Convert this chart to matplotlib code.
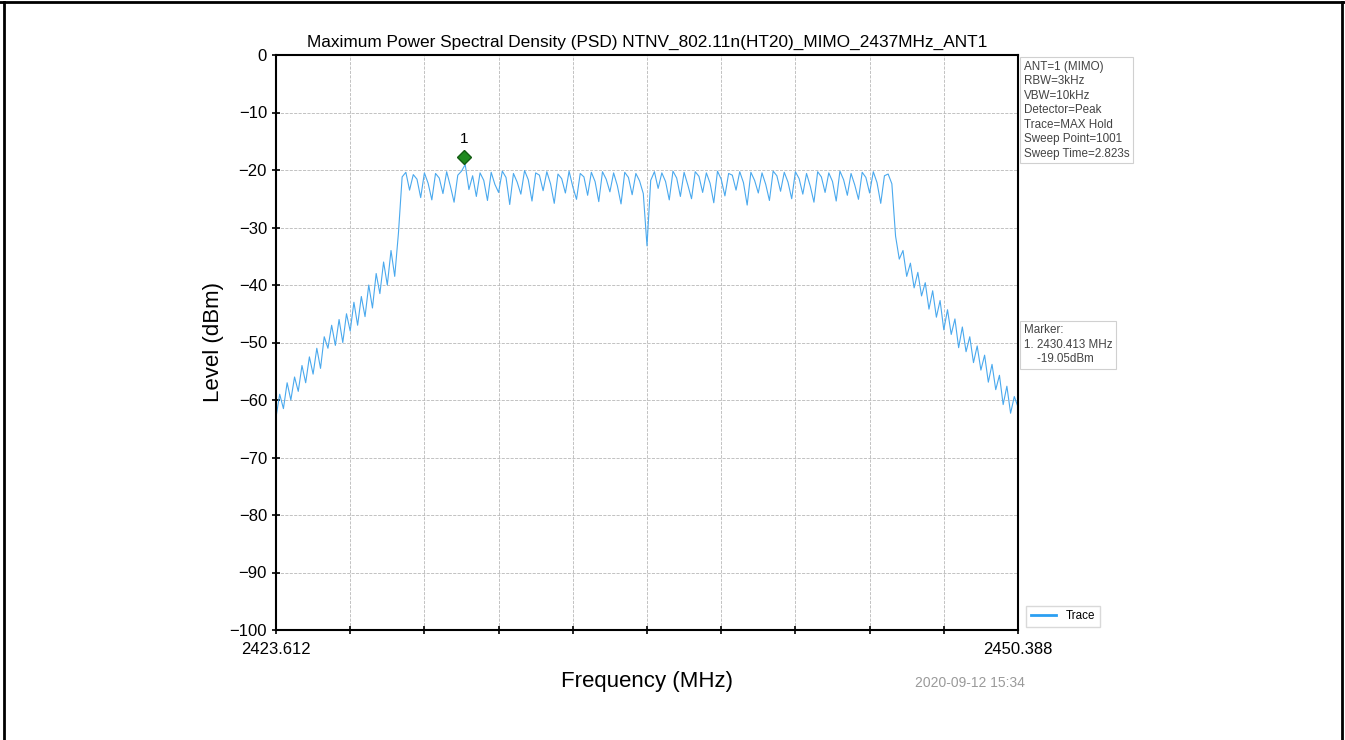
import numpy as np
import matplotlib
matplotlib.use('Agg')
import matplotlib.pyplot as plt
from matplotlib.lines import Line2D

plt.rcParams['font.family'] = ['Liberation Sans', 'DejaVu Sans']

f_start, f_stop = 2423.612, 2450.388
y_ticks = [0, -10, -20, -30, -40, -50, -60, -70, -80, -90, -100]

# trace level (dBm), evenly spaced sweep points
skirt_left = [-63.0, -59.0, -61.5, -57.0, -60.0, -56.0, -58.5, -54.0, -57.0, -52.5,
              -55.5, -51.0, -54.5, -49.0, -51.0, -47.0, -50.5, -46.0, -50.0, -45.0,
              -48.0, -43.0, -47.0, -42.0, -45.5, -40.0, -44.0, -38.0, -41.5, -36.0,
              -40.0, -34.0, -38.5, -31.0]
top = [-21.2, -20.4, -23.5, -20.8, -21.6, -24.8, -20.5, -22.3, -25.2, -20.6,
       -21.4, -24.1, -20.3, -22.8, -25.6, -20.9, -20.2, -19.05, -23.4, -21.0,
       -24.6, -20.5, -21.8, -25.3, -20.4, -22.5, -23.9, -20.2, -21.3, -26.0,
       -20.6, -22.1, -24.2, -20.1, -21.7, -25.4, -20.5, -20.9, -23.6, -20.3,
       -22.4, -25.8, -20.7, -21.5, -24.0, -20.2, -22.9, -25.1, -20.6, -21.2,
       -24.4, -20.4, -22.0, -25.5, -20.3, -21.6, -23.8, -20.5, -22.7, -25.9,
       -20.4, -21.3, -24.3, -20.6, -21.9, -24.1, -33.2, -21.8, -20.3, -23.2,
       -20.5, -22.0, -25.2, -20.2, -21.4, -24.6, -20.4, -22.6, -25.0, -20.3,
       -21.1, -23.9, -20.5, -22.3, -25.7, -20.2, -21.6, -24.5, -20.6, -20.9,
       -23.5, -20.3, -22.2, -26.1, -20.4, -21.8, -24.0, -20.5, -22.5, -25.3,
       -20.2, -21.0, -23.7, -20.4, -22.1, -25.0, -20.3, -21.5, -24.2, -20.6,
       -22.8, -25.6, -20.3, -21.2, -23.9, -20.5, -22.0, -25.4, -20.2, -21.7,
       -24.4, -20.6, -22.6, -25.1, -20.4, -21.3, -24.0, -20.3, -22.2, -25.8,
       -21.0, -20.7, -22.4]
skirt_right = [-31.5, -35.5, -34.0, -38.5, -36.2, -40.5, -37.8, -41.9, -39.6, -44.2,
               -41.0, -45.6, -42.7, -47.8, -44.3, -48.6, -45.9, -50.9, -47.3, -51.6,
               -49.0, -53.5, -50.6, -54.8, -52.2, -56.9, -53.8, -58.2, -55.7, -60.8,
               -57.6, -62.3, -59.4, -61.2]

level = np.array(skirt_left + top + skirt_right)
freq = np.linspace(f_start, f_stop, len(level))

marker_freq = 2430.413
marker_level = -19.05

fig = plt.figure(figsize=(13.45, 7.40), dpi=100)
ax = fig.add_axes([276 / 1345, 1 - 630 / 740, 742 / 1345, 575 / 740])

ax.plot(freq, level, color='#4aa9ee', lw=0.8)
ax.plot([marker_freq], [marker_level + 1.35], marker='D', ms=7,
        color='#1f8a1f', mec='#145c14', ls='none')
ax.text(marker_freq, marker_level + 3.2, '1', ha='center', va='bottom', fontsize=11)

ax.set_xlim(f_start, f_stop)
ax.set_ylim(-100, 0)
xt = np.linspace(f_start, f_stop, 11)
ax.set_xticks(xt)
ax.set_xticklabels(['2423.612'] + [''] * 9 + ['2450.388'])
ax.set_yticks(y_ticks)
ax.set_yticklabels([str(v).replace('-', '\u2212') for v in y_ticks])
ax.tick_params(direction='inout', length=6, width=1.2, labelsize=12)
ax.tick_params(axis='x', pad=6)
ax.grid(True, color='#b8b8b8', ls='--', lw=0.6)
for s in ax.spines.values():
    s.set_linewidth(1.5)

ax.set_title('Maximum Power Spectral Density (PSD) NTNV_802.11n(HT20)_MIMO_2437MHz_ANT1',
             fontsize=12.4, pad=6)
ax.set_xlabel('Frequency (MHz)', fontsize=16, labelpad=10)
ax.set_ylabel('Level (dBm)', fontsize=16, labelpad=4)

box = dict(boxstyle='square,pad=0.3', fc='white', ec='#d0d0d0', lw=0.8)
info = ['ANT=1 (MIMO)', 'RBW=3kHz', 'VBW=10kHz', 'Detector=Peak',
        'Trace=MAX Hold', 'Sweep Point=1001', 'Sweep Time=2.823s']
ax.text(1.008, 0.99, '\n'.join(info), transform=ax.transAxes, ha='left', va='top',
        fontsize=8.4, color='#444444', linespacing=1.28, bbox=box)
ax.text(1.008, 0.532, 'Marker:\n1. 2430.413 MHz\n    -19.05dBm', transform=ax.transAxes,
        ha='left', va='top', fontsize=8.4, color='#444444', linespacing=1.28, bbox=box)
handle = Line2D([], [], color='#2b9ff2', lw=2)
ax.legend([handle], ['Trace'], loc='lower left', bbox_to_anchor=(1.003, -0.005),
          fontsize=8.4, frameon=True, fancybox=False, edgecolor='#d0d0d0',
          handlelength=2.2)
fig.text(970 / 1345, 1 - 683 / 740, '2020-09-12 15:34', ha='center', va='center',
         fontsize=10, color='#9a9a9a')

# page frame around the picture
for xs, ys in [([0.003, 0.003], [0, 0.997]), ([0, 1], [0.997, 0.997]),
               ([0.9975, 0.9975], [0, 0.997])]:
    fig.add_artist(Line2D(xs, ys, color='black', lw=2, transform=fig.transFigure))

fig.savefig('out.png', dpi=100)
